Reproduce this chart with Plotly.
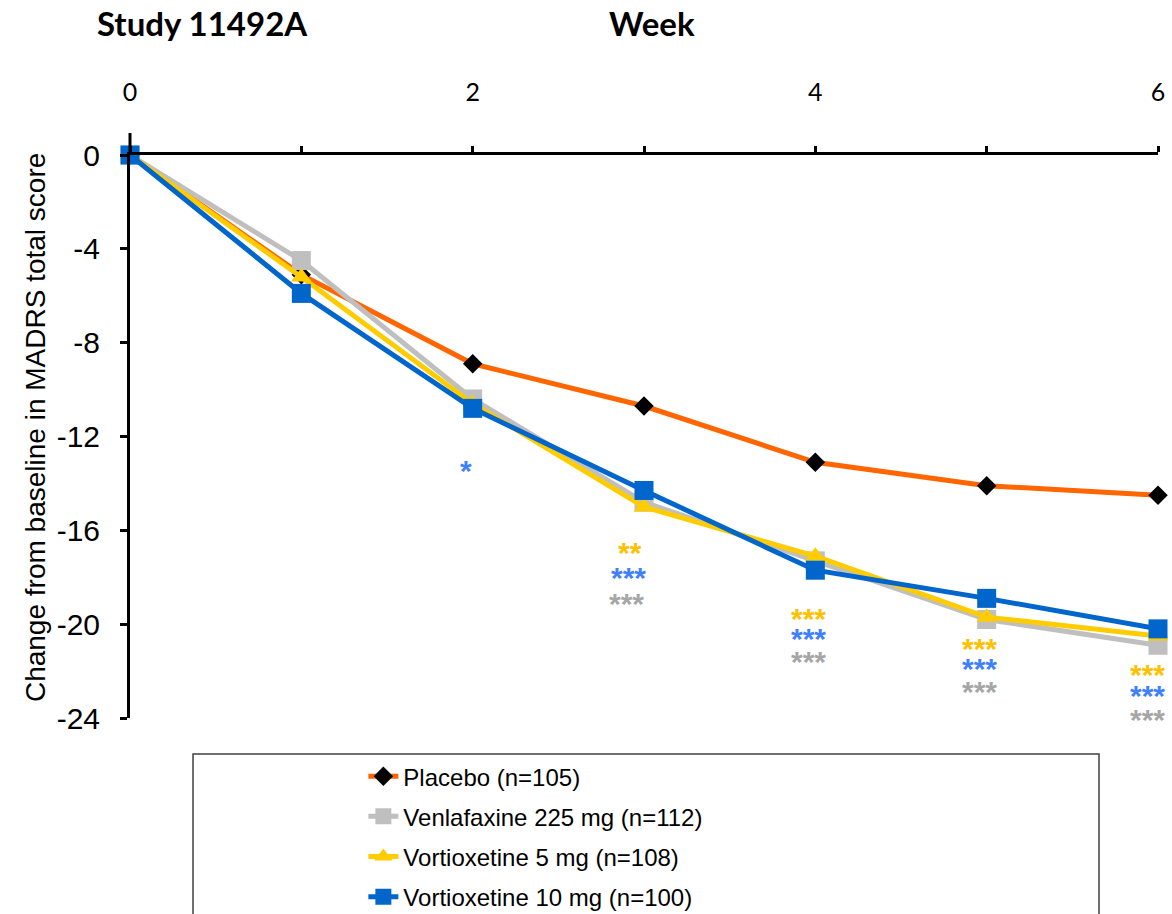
import plotly.graph_objects as go

weeks = [0, 1, 2, 3, 4, 5, 6]
placebo = [0, -5.1, -8.9, -10.7, -13.1, -14.1, -14.5]
venlafaxine = [0, -4.5, -10.4, -14.8, -17.3, -19.8, -20.9]
vort5 = [0, -5.2, -10.6, -15.0, -17.1, -19.7, -20.5]
vort10 = [0, -5.9, -10.8, -14.3, -17.7, -18.9, -20.2]

series_names = ["Placebo (n=105)", "Venlafaxine 225 mg (n=112)",
                "Vortioxetine 5 mg (n=108)", "Vortioxetine 10 mg (n=100)"]

x_tickvals = [0, 1, 2, 3, 4, 5, 6]
x_ticktext = ["0", "", "2", "", "4", "", "6"]
y_tickvals = [0, -4, -8, -12, -16, -20, -24]
y_ticktext = ["0", "-4", "-8", "-12", "-16", "-20", "-24"]

# significance markers
sig_x = [1.96, 2.92, 2.91, 2.90, 3.96, 3.96, 3.96, 4.96, 4.96, 4.96, 5.94, 5.94, 5.94]
sig_y = [-13.3, -16.8, -17.85, -18.95, -19.6, -20.45, -21.45, -20.9, -21.75, -22.7, -22.0, -22.9, -23.9]
sig_text = ["*", "**", "***", "***", "***", "***", "***", "***", "***", "***", "***", "***", "***"]
sig_group = ["b", "y", "b", "g", "y", "b", "g", "y", "b", "g", "y", "b", "g"]

sig_colors = {"y": "#FFC000", "b": "#3F80FF", "g": "#A6A6A6"}

fig = go.Figure()
styles = [
    dict(line=dict(color="#FF6600", width=5), marker=dict(symbol="diamond", size=15, color="#000000")),
    dict(line=dict(color="#BFBFBF", width=5), marker=dict(symbol="square", size=19, color="#BFBFBF")),
    dict(line=dict(color="#FFCC00", width=5), marker=dict(symbol="triangle-up", size=18, color="#FFCC00")),
    dict(line=dict(color="#0066CC", width=5), marker=dict(symbol="square", size=19, color="#0066CC")),
]
for i, (name, vals, st) in enumerate(zip(series_names, [placebo, venlafaxine, vort5, vort10], styles)):
    fig.add_trace(go.Scatter(x=weeks, y=vals, name=name, mode="lines+markers",
                             legendgroup="g%d" % i,
                             line=st["line"], marker=st["marker"], cliponaxis=False))

for x, y, t, g in zip(sig_x, sig_y, sig_text, sig_group):
    fig.add_annotation(x=x, y=y, xref="x", yref="y", text="<b>%s</b>" % t, showarrow=False,
                       font=dict(family="Liberation Sans", size=30, color=sig_colors[g]),
                       height=20, valign="top", yshift=3, xanchor="center", yanchor="middle")

fig.add_annotation(x=0.071, y=1.2345, xref="paper", yref="paper", text="<b>Study 11492A</b>",
                   showarrow=False, font=dict(family="Lato", size=33, color="#000000"),
                   xanchor="center", yanchor="middle")
fig.add_annotation(x=0.5078, y=1.2345, xref="paper", yref="paper", text="<b>Week</b>",
                   showarrow=False, font=dict(family="Lato", size=33, color="#000000"),
                   xanchor="center", yanchor="middle")
fig.add_annotation(x=-0.0924, y=0.515, xref="paper", yref="paper",
                   text="Change from baseline in MADRS total score", textangle=-90,
                   showarrow=False, font=dict(family="Liberation Sans", size=28, color="#000000"),
                   xanchor="center", yanchor="middle")

# y-axis line extension above the x-axis
fig.add_shape(type="line", xref="paper", yref="paper", x0=0, x1=0, y0=1, y1=1.039,
              line=dict(color="#000000", width=3))
# legend frame
fig.add_shape(type="rect", xref="paper", yref="paper", x0=0.0613, x1=0.9426, y0=-0.0639, y1=-0.40,
              line=dict(color="#404040", width=1.5), fillcolor="rgba(0,0,0,0)")

fig.update_xaxes(range=[0, 6], side="top", tickvals=x_tickvals, ticktext=x_ticktext,
                 showline=True, linecolor="#000000", linewidth=3, ticks="outside",
                 ticklen=6, tickwidth=3, tickcolor="#000000", showgrid=False, zeroline=False,
                 tickfont=dict(family="Lato", size=25, color="#000000"), ticklabelstandoff=35)
fig.update_yaxes(range=[-24, 0], tickvals=y_tickvals, ticktext=y_ticktext, showline=True,
                 linecolor="#000000", linewidth=3, ticks="outside", ticklen=7, tickwidth=3,
                 tickcolor="#000000", showgrid=False, zeroline=False,
                 tickfont=dict(family="Liberation Sans", size=30, color="#000000"), ticklabelstandoff=14)

fig.update_layout(width=1172, height=914,
                  margin=dict(l=130, r=14, t=155, b=196, autoexpand=False),
                  plot_bgcolor="white", paper_bgcolor="white", showlegend=True,
                  legend=dict(x=0.227, y=-0.064, xanchor="left", yanchor="top",
                              bgcolor="rgba(0,0,0,0)", borderwidth=0, traceorder="grouped",
                              tracegroupgap=6,
                              font=dict(family="Liberation Sans", size=24, color="#000000")))

fig.write_html("out.html")
